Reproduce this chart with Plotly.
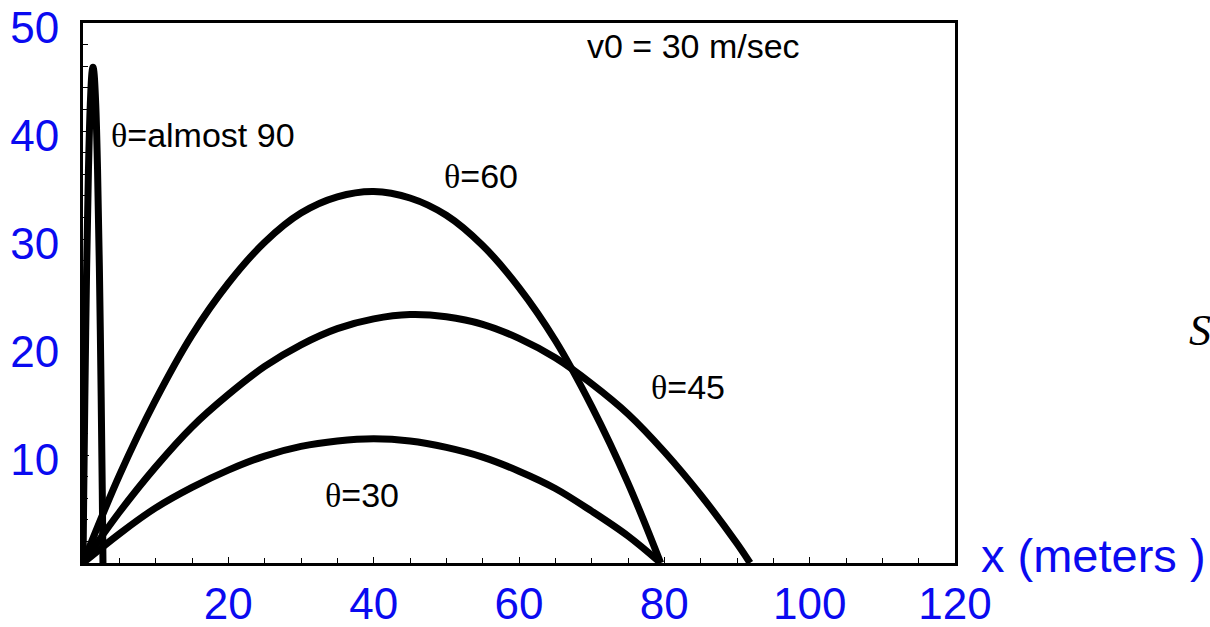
import plotly.graph_objects as go

# Data (x in meters, y in meters)
x90 = [0, 0.1, 0.25, 0.5, 0.75, 1.0, 1.25, 1.375, 1.5, 1.75, 2.0, 2.25, 2.5, 2.65, 2.75]
y90 = [0, 6.4, 15.1, 27.3, 36.4, 42.4, 45.5, 45.9, 45.5, 42.5, 36.5, 27.5, 15.4, 6.8, 0]

x60 = [0, 5, 10, 15, 20, 25, 30, 35, 40, 45, 50, 55, 60, 65, 70, 75, 79.5]
y60 = [0, 8.1, 15.1, 21.1, 25.9, 29.7, 32.4, 33.9, 34.4, 33.8, 32.2, 29.4, 25.5, 20.6, 14.5, 7.4, 0]

x45 = [0, 5, 10, 15, 20, 25, 30, 35, 40, 45, 50, 55, 60, 65, 70, 75, 80, 85, 90, 91.8]
y45 = [0, 4.7, 8.9, 12.6, 15.6, 18.2, 20.2, 21.7, 22.6, 23.0, 22.8, 22.1, 20.8, 19.0, 16.6, 13.8, 10.3, 6.3, 1.8, 0]

x30 = [0, 5, 10, 15, 20, 25, 30, 35, 40, 45, 50, 55, 60, 65, 70, 75, 79.5]
y30 = [0, 2.7, 5.1, 7.0, 8.6, 9.9, 10.8, 11.3, 11.5, 11.3, 10.7, 9.8, 8.5, 6.9, 4.8, 2.5, 0]

x_ticks = [20, 40, 60, 80, 100, 120]
y_ticks = [10, 20, 30, 40, 50]

labels = [
    ("θ", "=almost 90", 16.5, 39.6),
    ("θ", "=60", 54.8, 35.8),
    ("θ", "=45", 83.2, 16.3),
    ("θ", "=30", 38.4, 6.3),
]

BLUE = "#0a0af0"
SANS = "Liberation Sans, Arial, Helvetica, sans-serif"
SERIF = "Liberation Serif, Times New Roman, serif"

fig = go.Figure()
for xs, ys in [(x90, y90), (x60, y60), (x45, y45), (x30, y30)]:
    fig.add_trace(go.Scatter(
        x=xs, y=ys, mode="lines",
        line=dict(color="black", width=7, shape="spline", smoothing=1.0),
        showlegend=False, hoverinfo="skip", cliponaxis=False,
    ))

for sym, rest, xa, ya in labels:
    fig.add_annotation(
        x=xa, y=ya, xref="x", yref="y", showarrow=False,
        text=f"<span style='font-family:{SERIF}'>{sym}</span>{rest}",
        font=dict(family=SANS, size=34, color="black"),
        xanchor="center", yanchor="middle",
    )

fig.add_annotation(
    x=84.0, y=47.9, xref="x", yref="y", showarrow=False,
    text="v0 = 30 m/sec",
    font=dict(family=SANS, size=34, color="black"),
    xanchor="center", yanchor="middle",
)

fig.add_annotation(
    x=1.159, y=0.014, xref="paper", yref="paper", showarrow=False,
    text="x (meters )",
    font=dict(family=SANS, size=47, color=BLUE),
    xanchor="center", yanchor="middle",
)

fig.add_annotation(
    x=1.266, y=0.43, xref="paper", yref="paper", showarrow=False,
    text="<i>S</i>",
    font=dict(family=SERIF, size=44, color="black"),
    xanchor="left", yanchor="middle",
)

fig.update_xaxes(
    range=[0, 120], tickvals=x_ticks, ticktext=[str(v) for v in x_ticks],
    showline=True, mirror=True, linecolor="black", linewidth=3,
    ticks="inside", ticklen=6, tickcolor="black", tickwidth=1,
    minor=dict(dtick=5, ticks="inside", ticklen=5, tickcolor="black", tickwidth=1),
    showgrid=False, zeroline=False, automargin=False,
    tickfont=dict(family=SANS, size=44, color=BLUE),
    ticklabelstandoff=0, ticklabeloverflow="allow",
)
fig.update_yaxes(
    range=[0, 50], tickvals=y_ticks, ticktext=[str(v) for v in y_ticks],
    showline=True, mirror=True, linecolor="black", linewidth=3,
    ticks="inside", ticklen=6, tickcolor="black", tickwidth=1,
    minor=dict(dtick=2, ticks="inside", ticklen=5, tickcolor="black", tickwidth=1),
    showgrid=False, zeroline=False, automargin=False,
    tickfont=dict(family=SANS, size=44, color=BLUE),
    ticklabelstandoff=12, ticklabeloverflow="allow", ticklabelshift=5,
)

fig.update_layout(
    width=1210, height=627,
    margin=dict(l=83, r=255, t=23, b=64, pad=0),
    paper_bgcolor="white", plot_bgcolor="white",
)

fig.write_html(
    "out.html",
    config={"displayModeBar": False},
    post_script="document.body.style.margin='0px';document.body.style.overflow='hidden';",
)
